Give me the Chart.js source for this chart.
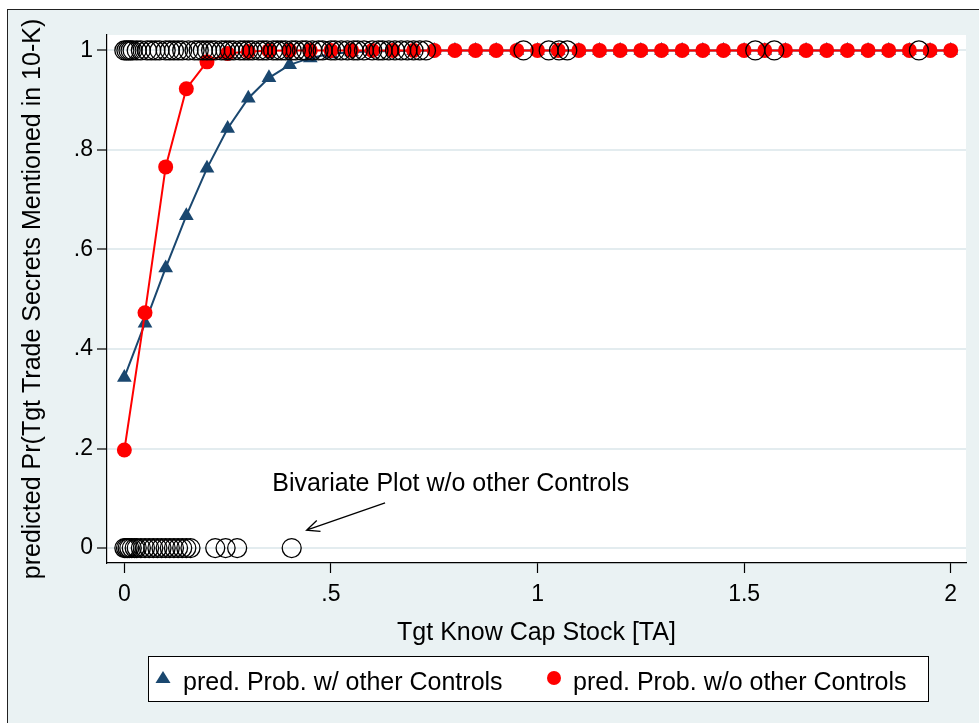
<!DOCTYPE html>
<html>
<head>
<meta charset="utf-8">
<script src="https://cdn.jsdelivr.net/npm/chart.js@4"></script>
<style>
    html, body { margin: 0; padding: 0; background: #fff; overflow: hidden; }
    .frame {
        position: absolute; left: 7px; top: 9px; width: 1000px; height: 740px;
        background: #eaf2f3; border-top: 1px solid #222; border-left: 1px solid #222;
    }
    #chart { position: absolute; left: 0; top: 0; }
</style>
</head>
<body>
<div class="frame"></div>
<canvas id="chart" width="979" height="723"></canvas>
<script>
// grid of Tgt Know Cap Stock values where predictions were evaluated
const xGrid = [0, 0.05, 0.1, 0.15, 0.2, 0.25, 0.3, 0.35, 0.4, 0.45, 0.5, 0.55, 0.6, 0.65, 0.7,
    0.75, 0.8, 0.85, 0.9, 0.95, 1, 1.05, 1.1, 1.15, 1.2, 1.25, 1.3, 1.35, 1.4, 1.45, 1.5,
    1.55, 1.6, 1.65, 1.7, 1.75, 1.8, 1.85, 1.9, 1.95, 2];

const probWithControls = [0.343, 0.452, 0.563, 0.668, 0.763, 0.843, 0.904, 0.945, 0.971, 0.985,
    0.993, 0.997, 0.998, 0.999, 0.9995, 1, 1, 1, 1, 1, 1, 1, 1, 1, 1, 1, 1, 1, 1, 1, 1,
    1, 1, 1, 1, 1, 1, 1, 1, 1, 1];

const probWithoutControls = [0.197, 0.473, 0.766, 0.923, 0.977, 0.994, 0.998, 0.9995, 1, 1,
    1, 1, 1, 1, 1, 1, 1, 1, 1, 1, 1, 1, 1, 1, 1, 1, 1, 1, 1, 1, 1,
    1, 1, 1, 1, 1, 1, 1, 1, 1, 1];

// observed outcomes (bivariate plot)
const observedOnesX = [0, 0.005, 0.01, 0.015, 0.02, 0.03, 0.04, 0.055, 0.065, 0.075, 0.085,
    0.1, 0.11, 0.12, 0.13, 0.14, 0.155, 0.17, 0.18, 0.19, 0.2, 0.21, 0.22, 0.235, 0.245,
    0.255, 0.265, 0.28, 0.29, 0.3, 0.31, 0.325, 0.335, 0.345, 0.36, 0.37, 0.38, 0.39, 0.405,
    0.415, 0.43, 0.44, 0.455, 0.47, 0.48, 0.5, 0.51, 0.525, 0.54, 0.555, 0.565, 0.58, 0.6,
    0.615, 0.625, 0.64, 0.655, 0.67, 0.685, 0.7, 0.715, 0.73,
    0.966, 1.027, 1.052, 1.072, 1.527, 1.573, 1.923];

const observedZerosX = [0, 0.004, 0.008, 0.012, 0.018, 0.025, 0.03, 0.04, 0.05, 0.06, 0.07,
    0.08, 0.09, 0.1, 0.11, 0.12, 0.13, 0.14, 0.15, 0.16, 0.22, 0.245, 0.273, 0.405];

const xTicks = [0, 0.5, 1, 1.5, 2];
const xTickLabels = ['0', '.5', '1', '1.5', '2'];
const yTicks = [0, 0.2, 0.4, 0.6, 0.8, 1];
const yTickLabels = ['0', '.2', '.4', '.6', '.8', '1'];

const seriesLabels = ['pred. Prob. w/ other Controls', 'pred. Prob. w/o other Controls'];
const noteText = 'Bivariate Plot w/o other Controls';

const FONT = '"Liberation Sans", Arial, sans-serif';
const NAVY = '#1a476f';
const RED = '#ff0000';

Chart.defaults.font.family = FONT;
Chart.defaults.color = '#000';

const observed = observedOnesX.map((x) => ({ x, y: 1 }))
    .concat(observedZerosX.map((x) => ({ x, y: 0 })));

const plotBg = {
    id: 'plotBg',
    beforeDraw(chart) {
        const { ctx, chartArea: a } = chart;
        ctx.save();
        ctx.fillStyle = '#fff';
        ctx.fillRect(a.left, a.top, a.right - a.left, a.bottom - a.top);
        ctx.restore();
    },
};

const note = {
    id: 'note',
    afterDatasetsDraw(chart) {
        const { ctx, scales: { x, y } } = chart;
        ctx.save();
        ctx.font = '25px ' + FONT;
        ctx.fillStyle = '#000';
        ctx.textAlign = 'center';
        ctx.textBaseline = 'alphabetic';
        ctx.fillText(noteText, x.getPixelForValue(0.79), y.getPixelForValue(0.114));

        const x0 = x.getPixelForValue(0.631), y0 = y.getPixelForValue(0.091);
        const x1 = x.getPixelForValue(0.441), y1 = y.getPixelForValue(0.036);
        const ang = Math.atan2(y1 - y0, x1 - x0);
        ctx.strokeStyle = '#000';
        ctx.lineWidth = 1.3;
        ctx.beginPath();
        ctx.moveTo(x0, y0);
        ctx.lineTo(x1, y1);
        ctx.moveTo(x1 - 14 * Math.cos(ang - 0.42), y1 - 14 * Math.sin(ang - 0.42));
        ctx.lineTo(x1, y1);
        ctx.lineTo(x1 - 14 * Math.cos(ang + 0.42), y1 - 14 * Math.sin(ang + 0.42));
        ctx.stroke();
        ctx.restore();
    },
};

// stata style boxed legend under the x title
const boxLegend = {
    id: 'boxLegend',
    afterDraw(chart) {
        const { ctx, chartArea: a } = chart;
        const w = 780, h = 45;
        const left = Math.round((a.left + a.right) / 2 - w / 2) + 1;
        const top = a.bottom + 93;
        ctx.save();
        ctx.fillStyle = '#fff';
        ctx.fillRect(left, top, w, h);
        ctx.strokeStyle = '#000';
        ctx.lineWidth = 1;
        ctx.strokeRect(left + 0.5, top + 0.5, w, h);

        const cy = top + 22;
        // triangle
        ctx.fillStyle = NAVY;
        ctx.beginPath();
        ctx.moveTo(left + 15, cy - 7);
        ctx.lineTo(left + 22.5, cy + 5);
        ctx.lineTo(left + 7.5, cy + 5);
        ctx.closePath();
        ctx.fill();
        // dot
        ctx.fillStyle = RED;
        ctx.beginPath();
        ctx.arc(left + 406, cy, 7, 0, Math.PI * 2);
        ctx.fill();

        ctx.fillStyle = '#000';
        ctx.font = '25px ' + FONT;
        ctx.textBaseline = 'alphabetic';
        ctx.textAlign = 'left';
        ctx.fillText(seriesLabels[0], left + 35, top + 34);
        ctx.fillText(seriesLabels[1], left + 425, top + 34);
        ctx.restore();
    },
};

new Chart(document.getElementById('chart'), {
    type: 'scatter',
    data: {
        datasets: [
            {
                label: 'observed',
                data: observed,
                showLine: false,
                pointStyle: 'circle',
                pointRadius: 9.5,
                pointBorderWidth: 1.3,
                pointBorderColor: '#000',
                pointBackgroundColor: 'rgba(0,0,0,0)',
                order: 0,
            },
            {
                label: seriesLabels[1],
                data: xGrid.map((x, i) => ({ x, y: probWithoutControls[i] })),
                showLine: true,
                borderColor: RED,
                borderWidth: 2,
                pointStyle: 'circle',
                pointRadius: 7.5,
                pointBorderWidth: 0,
                pointBackgroundColor: RED,
                order: 1,
            },
            {
                label: seriesLabels[0],
                data: xGrid.map((x, i) => ({ x, y: probWithControls[i] })),
                showLine: true,
                borderColor: NAVY,
                borderWidth: 2,
                pointStyle: 'triangle',
                pointRadius: 8.5,
                pointBorderWidth: 0,
                pointBackgroundColor: NAVY,
                order: 2,
            },
        ],
    },
    options: {
        responsive: false,
        animation: false,
        events: [],
        layout: { padding: { left: 0, right: 13, top: 35, bottom: 65 } },
        plugins: {
            legend: { display: false },
            tooltip: { enabled: false },
        },
        scales: {
            x: {
                type: 'linear',
                min: -0.042,
                max: 2.037,
                afterBuildTicks: (s) => { s.ticks = xTicks.map((v) => ({ value: v })); },
                afterFit: (s) => { s.height = 95; },
                ticks: {
                    autoSkip: false,
                    maxRotation: 0,
                    padding: 8,
                    font: { size: 23 },
                    color: '#000',
                    callback: (v) => xTickLabels[xTicks.indexOf(v)],
                },
                grid: { drawOnChartArea: false, tickLength: 10, tickColor: '#000', tickWidth: 1.2 },
                border: { color: '#000', width: 1.2 },
                title: {
                    display: true,
                    text: 'Tgt Know Cap Stock [TA]',
                    font: { size: 25 },
                    color: '#000',
                    padding: { top: 4, bottom: 10 },
                },
            },
            y: {
                type: 'linear',
                min: -0.030,
                max: 1.031,
                afterBuildTicks: (s) => { s.ticks = yTicks.map((v) => ({ value: v })); },
                afterFit: (s) => { s.width = 107; },
                ticks: {
                    autoSkip: false,
                    padding: 4,
                    font: { size: 23 },
                    color: '#000',
                    callback: (v) => yTickLabels[yTicks.indexOf(v)],
                },
                grid: { color: '#e3ecef', lineWidth: 2, tickLength: 10, tickColor: '#000', tickWidth: 1.2 },
                border: { color: '#000', width: 1.2 },
                title: {
                    display: true,
                    text: 'predicted Pr(Tgt Trade Secrets Mentioned in 10-K)',
                    font: { size: 25 },
                    color: '#000',
                    padding: { top: 18, bottom: 0 },
                },
            },
        },
    },
    plugins: [plotBg, note, boxLegend],
});
</script>
</body>
</html>
